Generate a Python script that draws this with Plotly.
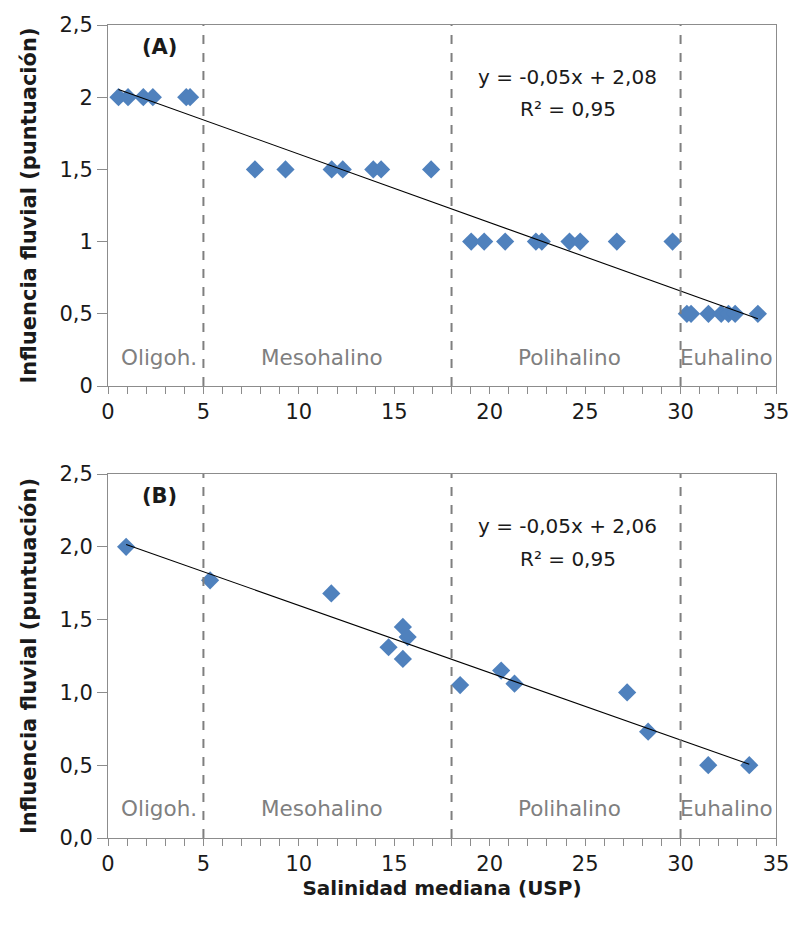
import numpy as np
import plotly.graph_objects as go

# Panel A: fluvial influence score vs. median salinity
sal_a = [0.55, 1.05, 1.85, 2.35, 4.1, 4.3,
         7.7, 9.3, 11.72, 12.3, 13.9, 14.31, 16.93,
         19.03, 19.71, 20.81, 22.42, 22.73, 24.18, 24.74, 26.66, 29.58,
         30.33, 30.55, 31.46, 32.13, 32.51, 32.86, 34.05]
inf_a = [2, 2, 2, 2, 2, 2,
         1.5, 1.5, 1.5, 1.5, 1.5, 1.5, 1.5,
         1, 1, 1, 1, 1, 1, 1, 1, 1,
         0.5, 0.5, 0.5, 0.5, 0.5, 0.5, 0.5]

# Panel B
sal_b = [0.95, 5.35, 11.7, 14.7, 15.45, 15.45, 15.7, 18.45, 20.6, 21.3, 27.2, 28.3, 31.45, 33.6]
inf_b = [2.0, 1.77, 1.68, 1.31, 1.45, 1.23, 1.38, 1.05, 1.15, 1.06, 1.0, 0.73, 0.5, 0.5]

eq_a = ["y = -0,05x + 2,08", "R² = 0,95"]
eq_b = ["y = -0,05x + 2,06", "R² = 0,95"]

zone_limits = [5, 18, 30]
zone_names = ["Oligoh.", "Mesohalino", "Polihalino", "Euhalino"]
zone_centers = [2.65, 11.2, 24.2, 32.4]

x_ticks = [0, 5, 10, 15, 20, 25, 30, 35]
y_ticks = [0, 0.5, 1, 1.5, 2, 2.5]
y_text_a = ["0", "0,5", "1", "1,5", "2", "2,5"]
y_text_b = ["0,0", "0,5", "1,0", "1,5", "2,0", "2,5"]

FONT = "DejaVu Sans"
BLUE = "#4F81BD"
AXIS = "#8C8C8C"
TXT = "#1A1A1A"
GRAY_TXT = "#7F7F7F"

fig = go.Figure()

panels = [
    dict(x=sal_a, y=inf_a, xa="x", ya="y", eq=eq_a, tag="(A)"),
    dict(x=sal_b, y=inf_b, xa="x2", ya="y2", eq=eq_b, tag="(B)"),
]

for p in panels:
    xs = np.array(p["x"], dtype=float)
    ys = np.array(p["y"], dtype=float)
    slope, icpt = np.polyfit(xs, ys, 1)
    xl = np.array([xs.min(), xs.max()])
    fig.add_trace(go.Scatter(
        x=xs, y=ys, mode="markers", xaxis=p["xa"], yaxis=p["ya"],
        marker=dict(symbol="diamond", size=14, color=BLUE, line=dict(width=0)),
        showlegend=False))
    fig.add_trace(go.Scatter(
        x=xl, y=slope * xl + icpt, mode="lines", xaxis=p["xa"], yaxis=p["ya"],
        line=dict(color="#000000", width=1.1), showlegend=False))
    for lim in zone_limits:
        fig.add_shape(type="line", xref=p["xa"], yref=p["ya"],
                      x0=lim, x1=lim, y0=0, y1=2.5,
                      line=dict(color="#7F7F7F", width=2, dash="dash"))
    for name, cx in zip(zone_names, zone_centers):
        fig.add_annotation(x=cx, y=0.2, xref=p["xa"], yref=p["ya"], text=name,
                           showarrow=False,
                           font=dict(family=FONT, size=21.5, color=GRAY_TXT))
    fig.add_annotation(x=24.1, y=2.14, xref=p["xa"], yref=p["ya"], text=p["eq"][0],
                       showarrow=False, font=dict(family=FONT, size=20, color=TXT))
    fig.add_annotation(x=24.1, y=1.915, xref=p["xa"], yref=p["ya"], text=p["eq"][1],
                       showarrow=False, font=dict(family=FONT, size=20, color=TXT))
    fig.add_annotation(x=2.7, y=2.35, xref=p["xa"], yref=p["ya"], text="<b>" + p["tag"] + "</b>",
                       showarrow=False, font=dict(family=FONT, size=21, color=TXT))

# plot area spans x 108..776 px, y 25..838 px
ML, MR, MT, MB = 108, 16, 25, 89
area_h = 927 - MT - MB
dom_a = [(838 - 386) / area_h, 1.0]
dom_b = [0.0, (838 - 474) / area_h]

def xaxis_style(anchor, title=None):
    d = dict(domain=[0, 1], anchor=anchor, range=[0, 35], tickvals=x_ticks,
             ticks="outside", ticklen=7, tickcolor=AXIS, tickwidth=1,
             minor=dict(dtick=1, ticks="outside", ticklen=7, tickcolor=AXIS),
             showline=True, linecolor=AXIS, linewidth=1, mirror=True,
             showgrid=False, zeroline=False, automargin=False,
             tickfont=dict(family=FONT, size=21, color=TXT))
    if title:
        d["title"] = dict(text="<b>" + title + "</b>", standoff=3,
                          font=dict(family=FONT, size=20, color=TXT))
    return d

def yaxis_style(anchor, dom, ytext):
    return dict(domain=dom, anchor=anchor, range=[0, 2.5], tickvals=y_ticks, ticktext=ytext,
                ticks="outside", ticklen=10, tickcolor=AXIS,
                showline=True, linecolor=AXIS, linewidth=1, mirror=True,
                showgrid=False, zeroline=False, automargin=False,
                tickfont=dict(family=FONT, size=21, color=TXT),
                title=dict(text="<b>Influencia fluvial (puntuación)</b>", standoff=17,
                           font=dict(family=FONT, size=21, color=TXT)))

fig.update_layout(
    width=792, height=927,
    margin=dict(l=ML, r=MR, t=MT, b=MB),
    paper_bgcolor="white", plot_bgcolor="white",
    xaxis=xaxis_style("y"),
    yaxis=yaxis_style("x", dom_a, y_text_a),
    xaxis2=xaxis_style("y2", "Salinidad mediana (USP)"),
    yaxis2=yaxis_style("x2", dom_b, y_text_b),
    # inner halves of the crossing major tick marks
    xaxis3=dict(overlaying="x", anchor="y", range=[0, 35], tickvals=x_ticks,
                ticks="inside", ticklen=7, tickcolor=AXIS, showticklabels=False,
                showline=False, showgrid=False, zeroline=False, side="bottom"),
    xaxis4=dict(overlaying="x2", anchor="y2", range=[0, 35], tickvals=x_ticks,
                ticks="inside", ticklen=7, tickcolor=AXIS, showticklabels=False,
                showline=False, showgrid=False, zeroline=False, side="bottom"),
)

fig.write_html("out.html")
